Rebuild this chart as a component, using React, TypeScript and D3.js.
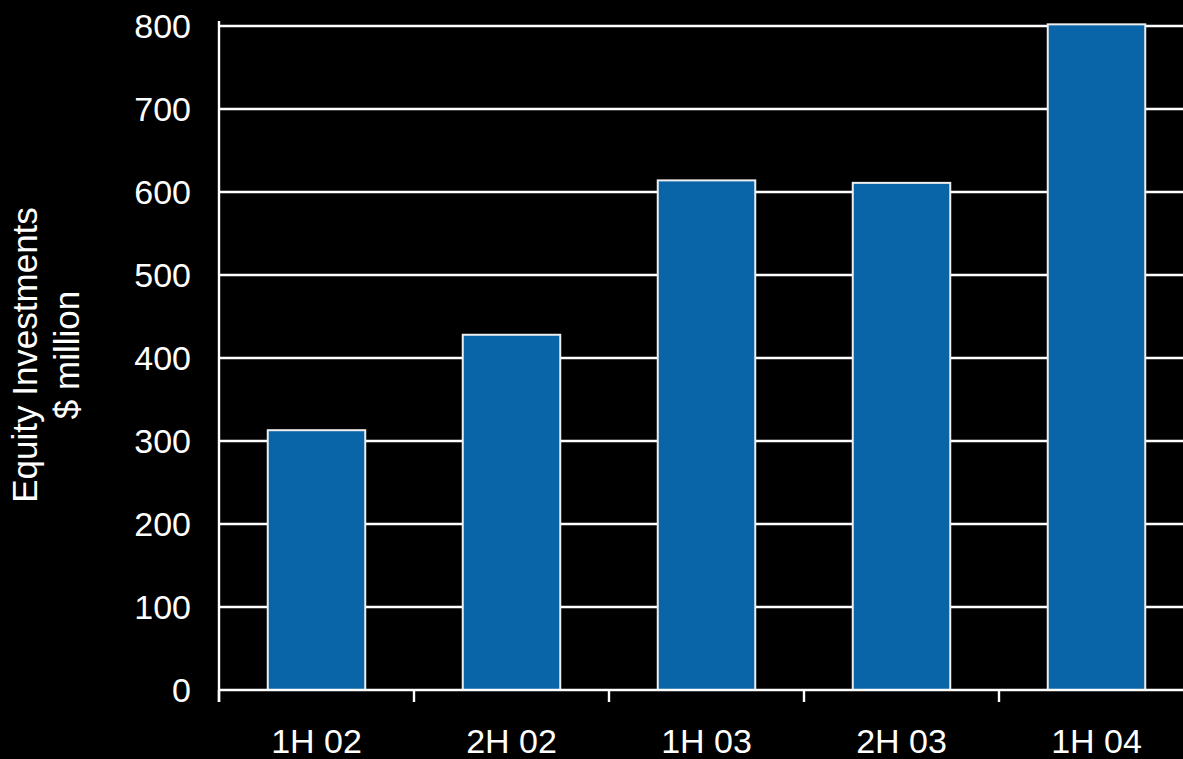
import React from "react";
import * as d3 from "d3";

const categories = ["1H 02", "2H 02", "1H 03", "2H 03", "1H 04"];
const values = [313, 428, 614, 611, 802];
const yTicks = [0, 100, 200, 300, 400, 500, 600, 700, 800];
const titleLines = ["Equity Investments", "$ million"];

const W = 1183;
const H = 759;
const FONT = "'Liberation Sans', Arial, Helvetica, sans-serif";

export default function App() {
  const x = d3
    .scaleBand<string>()
    .domain(categories)
    .range([219, 1194])
    .paddingInner(0.5)
    .paddingOuter(0.25);
  const y = d3.scaleLinear().domain([0, 800]).range([690, 26]);
  const step = x.step();
  const tickXs = categories.map((_, i) => 219 + i * step);

  return (
    <svg
      width={W}
      height={H}
      style={{ position: "absolute", left: 0, top: 0, background: "#000", display: "block" }}
    >
      <rect x={0} y={0} width={W} height={H} fill="#000" />
      {/* gridlines */}
      {yTicks.filter((t) => t > 0).map((t) => (
        <line key={"g" + t} x1={219} x2={W} y1={y(t)} y2={y(t)} stroke="#fff" strokeWidth={2.4} />
      ))}
      {/* bars */}
      {categories.map((c, i) => (
        <rect
          key={c}
          x={x(c)}
          y={y(values[i])}
          width={x.bandwidth()}
          height={y(0) - y(values[i])}
          fill="#0A64A8"
          stroke="#EEEEEE"
          strokeWidth={2}
        />
      ))}
      {/* axes */}
      <line x1={219} x2={219} y1={21} y2={702} stroke="#fff" strokeWidth={2.4} />
      <line x1={219} x2={W} y1={690} y2={690} stroke="#fff" strokeWidth={2.4} />
      {tickXs.map((tx, i) => (
        <line key={"t" + i} x1={tx} x2={tx} y1={690} y2={702} stroke="#fff" strokeWidth={2.4} />
      ))}
      {/* y tick labels */}
      {yTicks.map((t) => (
        <text
          key={"l" + t}
          x={191}
          y={y(t)}
          dy="0.36em"
          textAnchor="end"
          fill="#fff"
          fontFamily={FONT}
          fontSize={34}
        >
          {t}
        </text>
      ))}
      {/* x labels */}
      {categories.map((c) => (
        <text
          key={"x" + c}
          x={(x(c) ?? 0) + x.bandwidth() / 2}
          y={753}
          textAnchor="middle"
          fill="#fff"
          fontFamily={FONT}
          fontSize={34}
        >
          {c}
        </text>
      ))}
      {/* y title */}
      {titleLines.map((s, i) => (
        <text
          key={"tt" + i}
          transform={`translate(${37 + i * 42},355) rotate(-90)`}
          textAnchor="middle"
          fill="#fff"
          fontFamily={FONT}
          fontSize={35}
        >
          {s}
        </text>
      ))}
    </svg>
  );
}
